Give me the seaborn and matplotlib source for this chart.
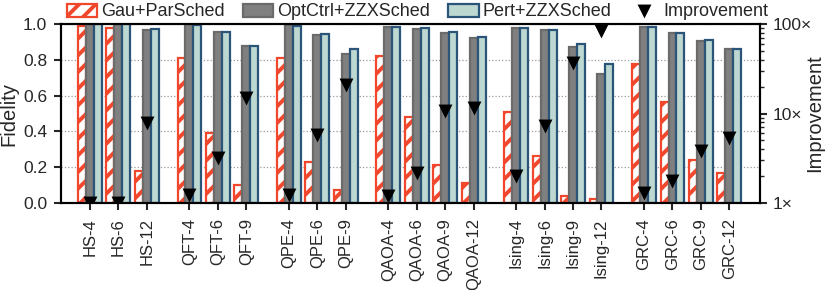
import matplotlib
matplotlib.use("Agg")
import matplotlib.pyplot as plt
import numpy as np
import pandas as pd
import seaborn as sns

# benchmarks, grouped by family (a half-slot gap between families)
groups = [
    ["HS-4", "HS-6", "HS-12"],
    ["QFT-4", "QFT-6", "QFT-9"],
    ["QPE-4", "QPE-6", "QPE-9"],
    ["QAOA-4", "QAOA-6", "QAOA-9", "QAOA-12"],
    ["Ising-4", "Ising-6", "Ising-9", "Ising-12"],
    ["GRC-4", "GRC-6", "GRC-9", "GRC-12"],
]

methods = ["Gau+ParSched", "OptCtrl+ZZXSched", "Pert+ZZXSched"]

gau_fid = [0.99, 0.975, 0.18,
           0.81, 0.39, 0.10,
           0.81, 0.23, 0.07,
           0.82, 0.48, 0.21, 0.11,
           0.51, 0.26, 0.04, 0.02,
           0.775, 0.565, 0.24, 0.17]
opt_fid = [1.0, 1.0, 0.967,
           0.998, 0.955, 0.875,
           0.995, 0.94, 0.83,
           0.985, 0.972, 0.952, 0.92,
           0.977, 0.967, 0.873, 0.723,
           0.984, 0.948, 0.906, 0.862]
pert_fid = [1.0, 1.0, 0.97,
            0.995, 0.955, 0.877,
            0.99, 0.945, 0.86,
            0.986, 0.976, 0.953, 0.927,
            0.98, 0.967, 0.887, 0.775,
            0.985, 0.95, 0.91, 0.862]
improvement = [1.0, 1.0, 7.9,
               1.23, 3.2, 15.0,
               1.23, 5.8, 21.0,
               1.2, 2.15, 10.6, 11.6,
               2.0, 7.2, 36.5, 83.0,
               1.29, 1.74, 3.8, 5.3]

benchmarks = [b for g in groups for b in g]
positions = []
p = 0.0
for g in groups:
    for _ in g:
        positions.append(p)
        p += 1.0
    p += 0.5

df = pd.DataFrame({
    "pos": positions * 3,
    "fid": gau_fid + opt_fid + pert_fid,
    "method": [m for m in methods for _ in benchmarks],
})

sns.set_style("ticks")
plt.rcParams["font.family"] = ["Liberation Sans", "DejaVu Sans"]
plt.rcParams["hatch.linewidth"] = 2.8
plt.rcParams["hatch.color"] = "#f0472d"

fill_colors = ["white", "#808080", "#bdd7d1"]
edge_colors = ["#f0472d", "#6b6b6b", "#2a5478"]

fig = plt.figure(figsize=(8.3, 2.9), dpi=100)
ax = fig.add_axes([61 / 830, 1 - 203 / 290, 699 / 830, 179 / 290])

sns.barplot(data=df, x="pos", y="fid", hue="method", hue_order=methods,
            native_scale=True, width=0.84, palette=fill_colors,
            saturation=1, legend=False, ax=ax, zorder=2)

for cont, ec, i in zip(ax.containers, edge_colors, range(3)):
    for bar in cont:
        bar.set_edgecolor(ec)
        bar.set_linewidth(1.6)
        if i == 0:
            bar.set_hatch("//")

ax.set_xlim(-1.02, 23.58)
ax.set_ylim(0, 1.0)
ax.set_xticks(positions)
ax.set_xticklabels(benchmarks, rotation=90, fontsize=12)
ax.set_yticks(np.arange(0, 1.01, 0.2))
ax.set_yticklabels([f"{v:.1f}" for v in np.arange(0, 1.01, 0.2)], fontsize=12.5)
ax.set_xlabel("")
ax.set_ylabel("Fidelity", fontsize=14.5, labelpad=3)
ax.yaxis.grid(True, linestyle=":", color="#999999", linewidth=0.9, zorder=0)
ax.set_axisbelow(True)
ax.tick_params(width=1.5, length=5)
ax.tick_params(axis="x", pad=6)
ax.tick_params(axis="y", pad=5)

ax2 = ax.twinx()
sns.scatterplot(x=positions, y=improvement, marker="v", s=100, color="black",
                linewidth=0, ax=ax2, zorder=5, legend=False)
ax2.set_yscale("log")
ax2.set_ylim(1, 100)
ax2.set_yticks([1, 10, 100])
ax2.set_yticklabels(["1×", "10×", "100×"], fontsize=12.5)
ax2.set_ylabel("Improvement", fontsize=14.5)
ax2.yaxis.set_label_coords((805 - 61) / 699, 0.5)
ax2.tick_params(which="major", width=1.5, length=5, pad=4)
ax2.tick_params(which="minor", width=1.0, length=3)

for a in (ax, ax2):
    for s in a.spines.values():
        s.set_linewidth(1.5)
        s.set_color("black")

handles = [ax.containers[0], ax.containers[1], ax.containers[2], ax2.collections[0]]
labels = methods + ["Improvement"]
ax2.legend(handles, labels, loc="lower center", bbox_to_anchor=(0.51, 1.02),
           ncol=4, frameon=False, fontsize=13, handlelength=1.7,
           handleheight=0.75, handletextpad=0.2, columnspacing=1.0,
           borderpad=0, borderaxespad=0)

fig.savefig("out.png", dpi=100)
